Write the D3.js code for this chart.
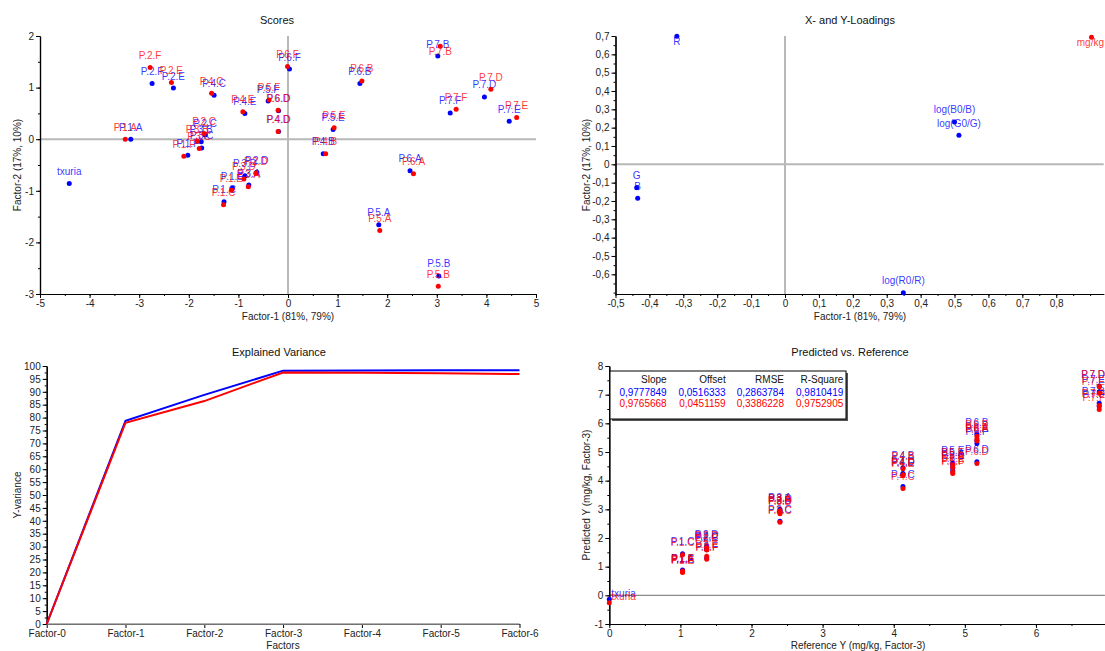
<!DOCTYPE html>
<html><head><meta charset="utf-8">
<script src="https://cdn.jsdelivr.net/npm/d3@7"></script>
<style>
body{margin:0;background:#fff;}
svg{display:block;font-family:"Liberation Sans",Arial,sans-serif;}
.tick text{font-size:10px;fill:#222;}
.tick line,.domain{stroke:#000;}
</style></head><body>
<svg id="chart" width="1105" height="651"></svg>
<script>
// ---- samples (shared by score and prediction plots) ----
const samples = ["txuria","P.1.A","P.1.C","P.1.E","P.1.F","P.2.C","P.2.D","P.2.E","P.2.F",
  "P.3.A","P.3.B","P.3.C","P.3.D","P.4.B","P.4.C","P.4.D","P.4.E","P.5.A","P.5.B","P.5.E","P.5.F",
  "P.6.A","P.6.B","P.6.D","P.6.F","P.7.B","P.7.D","P.7.E","P.7.F"];

// scores, calibration (blue) and validation (red)
const scoreCalT1 = [-4.41,-3.17,-1.29,-1.12,-2.02,-1.67,-0.63,-2.31,-2.74,-0.79,-1.75,-1.74,-0.87,
  0.71,-1.49,-0.19,-0.87,1.83,3.04,0.91,-0.40,2.46,1.45,-0.19,0.03,3.02,3.96,4.46,3.27];
const scoreCalT2 = [-0.86,0.00,-1.21,-0.95,-0.31,0.08,-0.64,0.99,1.08,-0.89,-0.05,-0.17,-0.71,
  -0.28,0.85,0.15,0.50,-1.66,-2.65,0.19,0.74,-0.61,1.08,0.55,1.36,1.61,0.82,0.35,0.51];
const scoreValT1 = [null,-3.28,-1.30,-1.14,-2.10,-1.69,-0.65,-2.35,-2.78,-0.80,-1.83,-1.79,-0.89,
  0.76,-1.54,-0.20,-0.91,1.85,3.03,0.93,-0.38,2.53,1.49,-0.20,-0.01,3.07,4.09,4.61,3.39];
const scoreValT2 = [null,0.00,-1.27,-0.99,-0.33,0.11,-0.66,1.10,1.39,-0.92,-0.04,-0.18,-0.77,
  -0.28,0.89,0.15,0.53,-1.77,-2.85,0.22,0.76,-0.67,1.13,0.56,1.41,1.80,0.97,0.42,0.58];

// X- and Y-loadings
const xVars = ["R","G","B","log(R0/R)","log(G0/G)","log(B0/B)"];
const xLoadP1 = [-0.319,-0.4375,-0.4345,0.349,0.513,0.500];
const xLoadP2 = [0.699,-0.128,-0.1855,-0.700,0.158,0.231];
const yVars = ["mg/kg"];
const yLoadP1 = [0.904];
const yLoadP2 = [0.693];

// explained Y-variance (%)
const factors = ["Factor-0","Factor-1","Factor-2","Factor-3","Factor-4","Factor-5","Factor-6"];
const varCal = [0,78.8,88.8,98.2,98.3,98.4,98.4];
const varVal = [0,78.0,86.4,97.5,97.4,97.2,96.9];

// predicted vs. reference (mg/kg, 3 factors)
const refY = [0,1.03,1.03,1.03,1.03,1.37,1.37,1.37,1.37,2.40,2.40,2.40,2.40,
  4.13,4.13,4.13,4.13,4.83,4.83,4.83,4.83,5.17,5.17,5.17,5.17,6.89,6.89,6.89,6.89];
const predCal = [-0.14,0.86,1.45,0.84,0.88,1.62,1.72,1.60,1.30,3.00,2.90,2.58,2.95,
  4.45,3.80,4.25,4.22,4.55,4.45,4.62,4.35,5.40,5.62,4.66,5.30,6.70,7.30,7.10,6.60];
const predVal = [-0.26,0.82,1.42,0.80,0.85,1.58,1.66,1.36,1.26,2.95,2.85,2.55,2.90,
  4.42,3.73,4.20,4.18,4.45,4.30,4.55,4.25,5.45,5.55,4.60,5.38,6.62,7.28,7.05,6.48];

// regression statistics table
const statHeaders = ["Slope","Offset","RMSE","R-Square"];
const statCal = ["0,9777849","0,0516333","0,2863784","0,9810419"];
const statVal = ["0,9765668","0,0451159","0,3386228","0,9752905"];

// ---------------------------------------------------------------
const BLUE = "#0000ff", RED = "#ff0000";
const svg = d3.select("#chart");
const loc = d3.formatLocale({decimal:",", thousands:".", grouping:[3], currency:["",""], minus:"-"});
const f1 = d => Math.abs(d) < 1e-9 ? "0" : loc.format(".1f")(d);
const f0 = d => loc.format("d")(d);
const steps = (a, b, s) => d3.range(Math.round(a / s), Math.round(b / s) + 1).map(i => +(i * s).toFixed(6));

function axes(g, x, y, o) {
  const y0 = y.range()[0], x0 = x.range()[0];
  const gx = g.append("g").attr("transform", `translate(0,${y0})`);
  if (o.xMinor) gx.append("g").call(d3.axisBottom(x).tickValues(o.xMinor).tickSize(2).tickSizeOuter(0).tickFormat(""));
  gx.append("g").call(d3.axisBottom(x).tickValues(o.xTicks).tickSize(4).tickSizeOuter(0).tickPadding(2).tickFormat(o.xFmt));
  const gy = g.append("g").attr("transform", `translate(${x0},0)`);
  if (o.yMinor) gy.append("g").call(d3.axisLeft(y).tickValues(o.yMinor).tickSize(2).tickSizeOuter(0).tickFormat(""));
  gy.append("g").call(d3.axisLeft(y).tickValues(o.yTicks).tickSize(4).tickSizeOuter(0).tickPadding(2).tickFormat(o.yFmt));
  g.selectAll(".domain").attr("stroke-width", 1.2);
}

function titles(t, tx, ty, xl, xlx, xly, yl, ylx, yly) {
  svg.append("text").attr("x", tx).attr("y", ty).attr("text-anchor", "middle")
    .attr("font-size", 11).attr("fill", "#111").text(t);
  svg.append("text").attr("x", xlx).attr("y", xly).attr("text-anchor", "middle")
    .attr("font-size", 10).attr("fill", "#222").text(xl);
  svg.append("text").attr("transform", `translate(${ylx},${yly}) rotate(-90)`).attr("text-anchor", "middle")
    .attr("font-size", 10).attr("fill", "#222").text(yl);
}

function zeroLines(g, x, y, both, w, col) {
  const [xa, xb] = x.range(), [ya, yb] = y.range();
  g.append("line").attr("x1", xa).attr("x2", xb).attr("y1", y(0)).attr("y2", y(0))
    .attr("stroke", col).attr("stroke-width", w);
  if (both) g.append("line").attr("x1", x(0)).attr("x2", x(0)).attr("y1", ya).attr("y2", yb)
    .attr("stroke", col).attr("stroke-width", w);
}

// labelled points: label centred above the dot, kept inside the plot box
function points(g, xs, ys, names, x, y, color, box) {
  const pts = names.map((n, i) => ({n, px: xs[i], py: ys[i]})).filter(d => d.px != null);
  g.selectAll(null).data(pts).join("circle")
    .attr("cx", d => x(d.px)).attr("cy", d => y(d.py)).attr("r", 2.5).attr("fill", color);
  pts.forEach(d => {
    const cx = x(d.px), cy = y(d.py);
    const t = g.append("text").attr("x", cx).attr("y", cy - 8.5).attr("text-anchor", "middle")
      .attr("font-size", 10).attr("fill", color).attr("fill-opacity", 0.8).text(d.n);
    if (cy - 16 < box.top) t.attr("y", cy + 8.5);
    const w = t.node().getComputedTextLength();
    if (cx + w / 2 > box.right) t.attr("x", box.right - w / 2);
    if (cx - w / 2 < box.left) t.attr("x", box.left + 2 + w / 2).attr("y", cy - 2.5);
  });
}

// ---------------- Scores ----------------
{
  const x = d3.scaleLinear().domain([-5, 5]).range([40, 536]);
  const y = d3.scaleLinear().domain([-3, 2]).range([294, 36]);
  const g = svg.append("g");
  zeroLines(g, x, y, true, 2, "#b8b8b8");
  axes(g, x, y, {xTicks: d3.range(-5, 6), xMinor: steps(-5, 5, 0.5), xFmt: f0,
    yTicks: d3.range(-3, 3), yMinor: steps(-3, 2, 0.5), yFmt: f0});
  const box = {top: 36, right: 536, left: 40};
  points(g, scoreCalT1, scoreCalT2, samples, x, y, BLUE, box);
  points(g, scoreValT1, scoreValT2, samples, x, y, RED, box);
  titles("Scores", 277, 24, "Factor-1 (81%, 79%)", 288, 320, "Factor-2 (17%, 10%)", 21, 165);
}

// ---------------- Loadings ----------------
{
  const x = d3.scaleLinear().domain([-0.5, 0.94]).range([615.5, 1103.7]);
  const y = d3.scaleLinear().domain([-0.7075, 0.7]).range([294, 36]);
  const g = svg.append("g");
  zeroLines(g, x, y, true, 2, "#b8b8b8");
  axes(g, x, y, {xTicks: steps(-0.5, 0.8, 0.1), xMinor: steps(-0.5, 0.9, 0.05), xFmt: f1,
    yTicks: steps(-0.6, 0.7, 0.1), yMinor: steps(-0.7, 0.7, 0.05), yFmt: f1});
  const box = {top: 36, right: 1104, left: 615.5};
  points(g, xLoadP1, xLoadP2, xVars, x, y, BLUE, box);
  points(g, yLoadP1, yLoadP2, yVars, x, y, RED, box);
  titles("X- and Y-Loadings", 850, 24, "Factor-1 (81%, 79%)", 860, 320, "Factor-2 (17%, 10%)", 590, 165);
}

// ---------------- Explained variance ----------------
{
  const x = d3.scalePoint().domain(factors).range([46.7, 519.5]);
  const y = d3.scaleLinear().domain([0, 100]).range([624, 366]);
  const g = svg.append("g");
  axes(g, x, y, {xTicks: factors, xFmt: d => d,
    yTicks: d3.range(0, 101, 5), yMinor: steps(0, 100, 2.5), yFmt: f0});
  g.append("line").attr("x1", 46.7).attr("x2", 519.5).attr("y1", y(0)).attr("y2", y(0))
    .attr("stroke", "#999").attr("stroke-width", 1.5);
  const line = d3.line().x((d, i) => x(factors[i])).y(d => y(d));
  g.append("path").attr("d", line(varCal)).attr("fill", "none").attr("stroke", BLUE).attr("stroke-width", 2);
  g.append("path").attr("d", line(varVal)).attr("fill", "none").attr("stroke", RED).attr("stroke-width", 2);
  titles("Explained Variance", 279, 356, "Factors", 283, 649, "Y-variance", 21, 495);
}

// ---------------- Predicted vs. reference ----------------
{
  const x = d3.scaleLinear().domain([0, 6.97]).range([609.3, 1104.9]);
  const y = d3.scaleLinear().domain([-1, 8]).range([624, 366]);
  const g = svg.append("g");
  zeroLines(g, x, y, false, 1.3, "#8c8c8c");
  axes(g, x, y, {xTicks: d3.range(0, 7), xMinor: steps(0, 6.5, 0.5), xFmt: f0,
    yTicks: d3.range(-1, 9), yMinor: steps(-1, 8, 0.5), yFmt: f0});
  const box = {top: 366, right: 1105, left: 609.3};
  points(g, refY, predCal, samples, x, y, BLUE, box);
  points(g, refY, predVal, samples, x, y, RED, box);
  titles("Predicted vs. Reference", 850, 356, "Reference Y (mg/kg, Factor-3)", 858, 649,
    "Predicted Y (mg/kg, Factor-3)", 590, 495);

  // statistics table
  const tb = g.append("g");
  tb.append("rect").attr("x", 612).attr("y", 373).attr("width", 236).attr("height", 48).attr("fill", "#555");
  tb.append("rect").attr("x", 610).attr("y", 371).attr("width", 236).attr("height", 48)
    .attr("fill", "#fff").attr("stroke", "#000").attr("stroke-width", 1);
  const colRight = [666.7, 725.7, 784, 843.3];
  [[statHeaders, "#111", 383], [statCal, BLUE, 395.5], [statVal, RED, 407]].forEach(([row, c, by]) => {
    tb.selectAll(null).data(row).join("text")
      .attr("x", (d, i) => colRight[i]).attr("y", by).attr("text-anchor", "end")
      .attr("font-size", 10).attr("fill", c).text(d => d);
  });
}
</script>
</body></html>
